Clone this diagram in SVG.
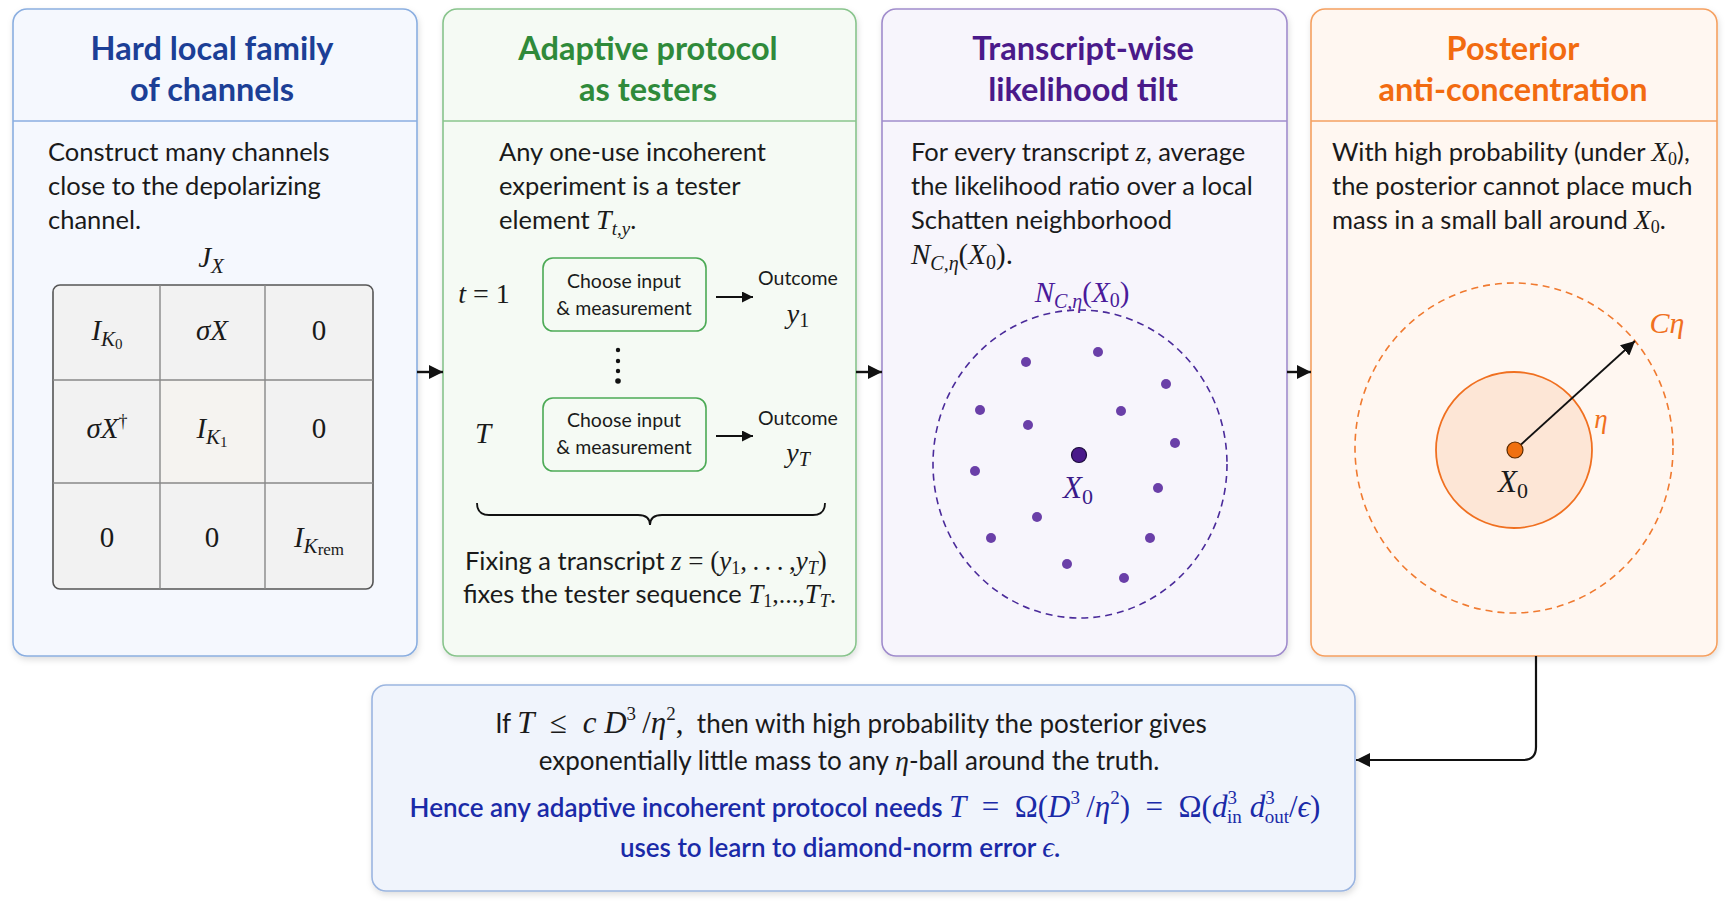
<svg xmlns="http://www.w3.org/2000/svg" width="1731" height="909" viewBox="0 0 1731 909">
<defs>
<filter id="sh" x="-5%" y="-5%" width="110%" height="110%">
<feDropShadow dx="1" dy="3" stdDeviation="3" flood-color="#000" flood-opacity="0.13"/>
</filter>
<marker id="ah" viewBox="0 0 10 10" refX="10" refY="5" markerWidth="14" markerHeight="14" orient="auto" markerUnits="userSpaceOnUse">
<path d="M0,0 L10,5 L0,10 z" fill="#111"/>
</marker>
<marker id="ahb" viewBox="0 0 10 10" refX="10" refY="5" markerWidth="14" markerHeight="14" orient="auto" markerUnits="userSpaceOnUse">
<path d="M0,0 L10,5 L0,10 z" fill="#111"/>
</marker>
<marker id="ahs" viewBox="0 0 10 10" refX="10" refY="5" markerWidth="11" markerHeight="11" orient="auto" markerUnits="userSpaceOnUse">
<path d="M0,0 L10,5 L0,10 z" fill="#111"/>
</marker>
</defs>
<style>
.title{font-family:Lato,"Liberation Sans",sans-serif;font-weight:700;font-size:32.5px;text-anchor:middle;}
.body{font-family:Lato,"Liberation Sans",sans-serif;font-size:25.5px;fill:#1a1a1a;}
.sum{font-family:Lato,"Liberation Sans",sans-serif;font-size:26px;fill:#1a1a1a;text-anchor:middle;}
.blue{font-family:Lato,"Liberation Sans",sans-serif;font-size:26px;font-weight:600;fill:#1a2aa8;text-anchor:middle;}
.m{font-family:"Liberation Serif","DejaVu Serif",serif;font-style:italic;font-weight:400;}
.mu{font-family:"Liberation Serif","DejaVu Serif",serif;font-style:normal;font-weight:400;}
.small{font-family:Lato,"Liberation Sans",sans-serif;font-size:19.5px;fill:#1a1a1a;text-anchor:middle;}
.cell{font-family:"Liberation Serif","DejaVu Serif",serif;font-size:29px;fill:#1a1a1a;text-anchor:middle;}
.conn{fill:none;stroke:#111;stroke-width:2.2;}
</style>

<rect width="1731" height="909" fill="#ffffff"/>

<!-- Panel 1 -->
<g id="panel1">
<rect x="13" y="9" width="404" height="647" rx="14" fill="#f5f8fe" stroke="#8aaee0" stroke-width="1.6" filter="url(#sh)"/>
<line x1="13" y1="121" x2="417" y2="121" stroke="#8aaee0" stroke-width="1.6"/>
<text class="title" x="212" y="60" fill="#1c3f96">Hard local family</text>
<text class="title" x="212" y="101" fill="#1c3f96">of channels</text>
<text class="body" x="48" y="161">Construct many channels</text>
<text class="body" x="48" y="195">close to the depolarizing</text>
<text class="body" x="48" y="229">channel.</text>
<text class="m" x="211" y="267" font-size="29" text-anchor="middle" fill="#1a1a1a">J<tspan font-size="21" dy="6">X</tspan></text>
<rect x="53" y="285" width="320" height="304" rx="7" fill="#f2f2f2" stroke="#555" stroke-width="1.6"/>
<rect x="160" y="380" width="105" height="103" fill="#f5f3f0"/>
<line x1="160" y1="285" x2="160" y2="589" stroke="#888" stroke-width="1.4"/>
<line x1="265" y1="285" x2="265" y2="589" stroke="#888" stroke-width="1.4"/>
<line x1="53" y1="380" x2="373" y2="380" stroke="#888" stroke-width="1.4"/>
<line x1="53" y1="483" x2="373" y2="483" stroke="#888" stroke-width="1.4"/>
<text class="cell" x="107" y="340"><tspan font-style="italic">I</tspan><tspan font-style="italic" font-size="21" dy="6">K</tspan><tspan font-size="15" dy="3">0</tspan></text>
<text class="cell" x="212" y="340"><tspan font-style="italic">σX</tspan></text>
<text class="cell" x="319" y="340">0</text>
<text class="cell" x="107" y="438"><tspan font-style="italic">σX</tspan><tspan font-size="18" dy="-11">†</tspan></text>
<text class="cell" x="212" y="438"><tspan font-style="italic">I</tspan><tspan font-style="italic" font-size="21" dy="6">K</tspan><tspan font-size="15" dy="3">1</tspan></text>
<text class="cell" x="319" y="438">0</text>
<text class="cell" x="107" y="547">0</text>
<text class="cell" x="212" y="547">0</text>
<text class="cell" x="319" y="547"><tspan font-style="italic">I</tspan><tspan font-style="italic" font-size="21" dy="6">K</tspan><tspan font-size="17" dy="2">rem</tspan></text>
</g>

<!-- Panel 2 -->
<g id="panel2">
<rect x="443" y="9" width="413" height="647" rx="14" fill="#f5faf4" stroke="#88c48c" stroke-width="1.6" filter="url(#sh)"/>
<line x1="443" y1="121" x2="856" y2="121" stroke="#88c48c" stroke-width="1.6"/>
<text class="title" x="648" y="60" fill="#2f8a3a">Adaptive protocol</text>
<text class="title" x="648" y="101" fill="#2f8a3a">as testers</text>
<text class="body" x="499" y="161">Any one-use incoherent</text>
<text class="body" x="499" y="195">experiment is a tester</text>
<text class="body" x="499" y="229">element <tspan class="m" font-size="28">T</tspan><tspan class="m" font-size="19" dy="6">t,y</tspan><tspan dy="-6">.</tspan></text>
<text class="m" x="484" y="303" font-size="28" text-anchor="middle" fill="#1a1a1a">t<tspan class="mu"> = 1</tspan></text>
<rect x="543" y="258" width="163" height="73" rx="10" fill="#f5faf4" stroke="#4caa55" stroke-width="1.6"/>
<text class="small" x="624" y="288">Choose input</text>
<text class="small" x="624" y="315">&amp; measurement</text>
<line x1="716" y1="297" x2="753" y2="297" stroke="#111" stroke-width="2" marker-end="url(#ahs)"/>
<text class="small" x="798" y="285">Outcome</text>
<text class="m" x="798" y="323" font-size="28" text-anchor="middle" fill="#1a1a1a">y<tspan class="mu" font-size="20" dy="4">1</tspan></text>
<circle cx="618" cy="350" r="2.2" fill="#111"/>
<circle cx="618" cy="361" r="2.2" fill="#111"/>
<circle cx="618" cy="371" r="2.2" fill="#111"/>
<circle cx="618" cy="381" r="2.8" fill="#111"/>
<text class="m" x="483" y="443" font-size="29" text-anchor="middle" fill="#1a1a1a">T</text>
<rect x="543" y="398" width="163" height="73" rx="10" fill="#f5faf4" stroke="#4caa55" stroke-width="1.6"/>
<text class="small" x="624" y="427">Choose input</text>
<text class="small" x="624" y="454">&amp; measurement</text>
<line x1="716" y1="436" x2="753" y2="436" stroke="#111" stroke-width="2" marker-end="url(#ahs)"/>
<text class="small" x="798" y="425">Outcome</text>
<text class="m" x="798" y="462" font-size="28" text-anchor="middle" fill="#1a1a1a">y<tspan font-size="20" dy="4">T</tspan></text>
<path d="M477,503 Q477,515 489,515 L638,515 Q650,515 650,525 Q650,515 662,515 L813,515 Q825,515 825,503" fill="none" stroke="#111" stroke-width="1.8"/>
<text class="body" x="465" y="570">Fixing a transcript <tspan class="m" font-size="27">z</tspan><tspan class="mu" font-size="27">&#160;=&#160;(</tspan><tspan class="m" font-size="27">y</tspan><tspan class="mu" font-size="18" dy="4">1</tspan><tspan class="mu" font-size="27" dy="-4">,&#8201;.&#8201;.&#8201;.&#8201;,</tspan><tspan class="m" font-size="27">y</tspan><tspan class="m" font-size="18" dy="4">T</tspan><tspan class="mu" font-size="27" dy="-4">)</tspan></text>
<text class="body" x="463" y="603">fixes the tester sequence <tspan class="m" font-size="27">T</tspan><tspan class="mu" font-size="18" dy="4">1</tspan><tspan class="mu" font-size="26" dy="-4">,...,</tspan><tspan class="m" font-size="27">T</tspan><tspan class="m" font-size="18" dy="4">T</tspan><tspan class="mu" font-size="26" dy="-4">.</tspan></text>
</g>

<!-- Panel 3 -->
<g id="panel3">
<rect x="882" y="9" width="405" height="647" rx="14" fill="#f7f5fc" stroke="#a08ccc" stroke-width="1.6" filter="url(#sh)"/>
<line x1="882" y1="121" x2="1287" y2="121" stroke="#a08ccc" stroke-width="1.6"/>
<text class="title" x="1083" y="60" fill="#4a1a8a">Transcript-wise</text>
<text class="title" x="1083" y="101" fill="#4a1a8a">likelihood tilt</text>
<text class="body" x="911" y="161">For every transcript <tspan class="m" font-size="27">z</tspan>, average</text>
<text class="body" x="911" y="195">the likelihood ratio over a local</text>
<text class="body" x="911" y="229">Schatten neighborhood</text>
<text class="m" x="911" y="264" font-size="29" fill="#1a1a1a">N<tspan font-size="20" dy="6">C,η</tspan><tspan class="mu" dy="-6">(</tspan>X<tspan class="mu" font-size="20" dy="5">0</tspan><tspan class="mu" dy="-5">).</tspan></text>
<text class="m" x="1082" y="302" font-size="29" text-anchor="middle" fill="#4a1a9a">N<tspan font-size="20" dy="6">C,η</tspan><tspan class="mu" dy="-6">(</tspan>X<tspan class="mu" font-size="20" dy="5">0</tspan><tspan class="mu" dy="-5">)</tspan></text>
<ellipse cx="1080" cy="464" rx="147" ry="154" fill="none" stroke="#4a2a9a" stroke-width="1.6" stroke-dasharray="7,5"/>
<g fill="#6a3fa8">
<circle cx="1026" cy="362" r="5"/>
<circle cx="1098" cy="352" r="5"/>
<circle cx="1166" cy="384" r="5"/>
<circle cx="980" cy="410" r="5"/>
<circle cx="1121" cy="411" r="5"/>
<circle cx="1028" cy="425" r="5"/>
<circle cx="1175" cy="443" r="5"/>
<circle cx="975" cy="471" r="5"/>
<circle cx="1158" cy="488" r="5"/>
<circle cx="1037" cy="517" r="5"/>
<circle cx="991" cy="538" r="5"/>
<circle cx="1150" cy="538" r="5"/>
<circle cx="1067" cy="564" r="5"/>
<circle cx="1124" cy="578" r="5"/>
</g>
<circle cx="1079" cy="455" r="7.5" fill="#4a1a8a" stroke="#1a0a3a" stroke-width="1.2"/>
<text class="m" x="1078" y="498" font-size="31" text-anchor="middle" fill="#3a1a8a">X<tspan class="mu" font-size="22" dy="6">0</tspan></text>
</g>

<!-- Panel 4 -->
<g id="panel4">
<rect x="1311" y="9" width="406" height="647" rx="14" fill="#fff7f1" stroke="#f5a060" stroke-width="1.6" filter="url(#sh)"/>
<line x1="1311" y1="121" x2="1717" y2="121" stroke="#f5a060" stroke-width="1.6"/>
<text class="title" x="1513" y="60" fill="#f26b10">Posterior</text>
<text class="title" x="1513" y="101" fill="#f26b10">anti-concentration</text>
<text class="body" x="1332" y="161">With high probability (under <tspan class="m" font-size="27">X</tspan><tspan class="mu" font-size="18" dy="4">0</tspan><tspan dy="-4">),</tspan></text>
<text class="body" x="1332" y="195">the posterior cannot place much</text>
<text class="body" x="1332" y="229">mass in a small ball around <tspan class="m" font-size="27">X</tspan><tspan class="mu" font-size="18" dy="4">0</tspan><tspan dy="-4">.</tspan></text>
<ellipse cx="1514" cy="448" rx="159" ry="165" fill="none" stroke="#f07a30" stroke-width="1.6" stroke-dasharray="7,5"/>
<circle cx="1514" cy="450" r="78" fill="#fde6d6" stroke="#f07020" stroke-width="1.8"/>
<line x1="1515" y1="450" x2="1635" y2="341" stroke="#111" stroke-width="1.8" marker-end="url(#ahb)"/>
<circle cx="1515" cy="450" r="8" fill="#f07010" stroke="#5a2a00" stroke-width="1.2"/>
<text class="m" x="1667" y="333" font-size="30" text-anchor="middle" fill="#f07020">Cη</text>
<text class="m" x="1601" y="428" font-size="27" text-anchor="middle" fill="#f07020">η</text>
<text class="m" x="1513" y="492" font-size="31" text-anchor="middle" fill="#1a1a1a">X<tspan class="mu" font-size="22" dy="6">0</tspan></text>
</g>

<!-- Summary -->
<g id="summary">
<rect x="372" y="685" width="983" height="206" rx="14" fill="#f0f4fc" stroke="#9bb5e0" stroke-width="1.6" filter="url(#sh)"/>
<text class="sum" x="851" y="733">If <tspan class="m" font-size="31">T</tspan><tspan class="mu" font-size="31">&#160;&#160;≤&#160;&#160;</tspan><tspan class="m" font-size="31">c&#160;D</tspan><tspan class="mu" font-size="19" dy="-13">3</tspan><tspan class="mu" font-size="31" dy="13">&#8201;/</tspan><tspan class="m" font-size="31">η</tspan><tspan class="mu" font-size="19" dy="-13">2</tspan><tspan class="mu" font-size="31" dy="13">,</tspan><tspan>&#160;&#160;then with high probability the posterior gives</tspan></text>
<text class="sum" x="849" y="770">exponentially little mass to any <tspan class="m" font-size="28">η</tspan>-ball around the truth.</text>
<text class="blue" x="865" y="817">Hence any adaptive incoherent protocol needs <tspan class="m" font-size="31">T</tspan><tspan class="mu" font-size="31">&#160;&#160;=&#160;&#160;Ω(</tspan><tspan class="m" font-size="31">D</tspan><tspan class="mu" font-size="19" dy="-13">3</tspan><tspan class="mu" font-size="31" dy="13">&#8201;/</tspan><tspan class="m" font-size="31">η</tspan><tspan class="mu" font-size="19" dy="-13">2</tspan><tspan class="mu" font-size="31" dy="13">)&#160;&#160;=&#160;&#160;Ω(</tspan><tspan class="m" font-size="31">d</tspan><tspan class="mu" font-size="19" dy="-13">3</tspan><tspan class="mu" font-size="19" dx="-10" dy="19">in</tspan><tspan class="m" font-size="31" dx="8" dy="-6">d</tspan><tspan class="mu" font-size="19" dy="-13">3</tspan><tspan class="mu" font-size="19" dx="-10" dy="19">out</tspan><tspan class="mu" font-size="31" dy="-6">/</tspan><tspan class="m" font-size="31">ϵ</tspan><tspan class="mu" font-size="31">)</tspan></text>
<text class="blue" x="840" y="857">uses to learn to diamond-norm error <tspan class="m" font-size="29">ϵ</tspan>.</text>
</g>

<!-- Connectors -->
<g id="connectors">
<line class="conn" x1="417" y1="372" x2="443" y2="372" marker-end="url(#ah)" style="stroke-width:2.4"/>
<line class="conn" x1="856" y1="372" x2="882" y2="372" marker-end="url(#ah)" style="stroke-width:2.4"/>
<line class="conn" x1="1287" y1="372" x2="1311" y2="372" marker-end="url(#ah)" style="stroke-width:2.4"/>
<path class="conn" d="M1536,656 L1536,747 Q1536,760 1523,760 L1356,760" marker-end="url(#ahb)"/>
</g>
</svg>
